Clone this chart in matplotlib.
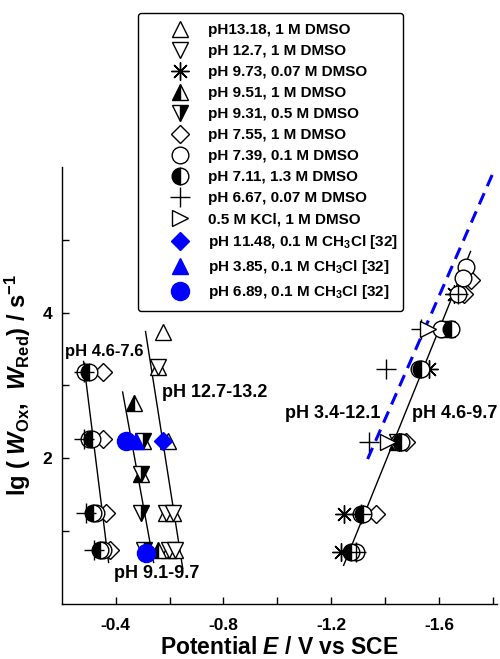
#!/usr/bin/env python3
"""Peak potential vs lg W for the oxidation and reduction branches."""

from __future__ import annotations

from typing import Any, Dict, List

import matplotlib

matplotlib.use("Agg")
import matplotlib.pyplot as plt
from matplotlib.ticker import FixedLocator, NullFormatter

# ---- data: peak potential E (V vs SCE) and lg W (s^-1) per series ----
PH1318_E = [-0.574, -0.556, -0.593, -0.586, -0.612, -0.597, -0.619]
PH1318_LGW = [3.74, 3.26, 2.24, 1.25, 1.25, 0.74, 0.74]

PH127_E = [-0.556, -0.586, -0.612, -0.597, -0.619]
PH127_LGW = [3.26, 1.25, 1.25, 0.74, 0.74]

PH973_E = [-1.654, -1.561, -1.450, -1.246, -1.235]
PH973_LGW = [4.25, 3.22, 2.23, 1.24, 0.72]

PH951_E = [-0.467, -0.500, -0.493, -0.556, -1.628, -1.443]
PH951_LGW = [2.76, 2.24, 1.78, 0.74, 3.77, 2.23]

PH931_E = [-0.500, -0.493, -0.496, -0.504, -1.628, -1.443]
PH931_LGW = [2.24, 1.78, 1.25, 0.74, 3.77, 2.23]

PH755_E = [-0.352, -0.355, -0.363, -0.381, -1.717, -1.691, -1.476, -1.365]
PH755_LGW = [3.18, 2.26, 1.25, 0.74, 4.45, 4.25, 2.23, 1.24]

PH739_E = [-0.285, -0.300, -0.329, -0.355,
           -1.699, -1.688, -1.669, -1.606, -1.524, -1.450, -1.309, -1.291]
PH739_LGW = [3.18, 2.26, 1.25, 0.74, 4.62, 4.48, 4.25, 3.77, 3.22, 2.23, 1.24, 0.72]

PH711_E = [-0.300, -0.311, -0.315, -0.341, -1.643, -1.532, -1.458, -1.317, -1.272]
PH711_LGW = [3.18, 2.26, 1.25, 0.74, 3.77, 3.22, 2.23, 1.24, 0.72]

PH667_E = [-0.281, -0.281, -0.292, -0.318,
           -1.669, -1.532, -1.402, -1.339, -1.309, -1.291]
PH667_LGW = [3.18, 2.26, 1.25, 0.74, 4.25, 3.77, 3.22, 2.23, 1.24, 0.72]

KCL_E = [-1.558, -1.409]
KCL_LGW = [3.77, 2.23]

PH1148_E = [-0.574]
PH1148_LGW = [2.24]

PH385_E = [-0.474]
PH385_LGW = [2.24]

PH689_E = [-0.437, -0.511]
PH689_LGW = [2.24, 0.70]

LABELS = [
    "pH13.18, 1 M DMSO",
    "pH 12.7, 1 M DMSO",
    "pH 9.73, 0.07 M DMSO",
    "pH 9.51, 1 M DMSO",
    "pH 9.31, 0.5 M DMSO",
    "pH 7.55, 1 M DMSO",
    "pH 7.39, 0.1 M DMSO",
    "pH 7.11, 1.3 M DMSO",
    "pH 6.67, 0.07 M DMSO",
    "0.5 M KCl, 1 M DMSO",
    r"pH 11.48, 0.1 M CH$_3$Cl $\mathsf{[32]}$",
    r"pH 3.85, 0.1 M CH$_3$Cl $\mathsf{[32]}$",
    r"pH 6.89, 0.1 M CH$_3$Cl $\mathsf{[32]}$",
]

# fitted lines (end points)
FIT_PH46_76_E = [-0.281, -0.374]
FIT_PH46_76_LGW = [3.33, 0.57]
FIT_PH91_97_E = [-0.426, -0.541]
FIT_PH91_97_LGW = [2.91, 0.57]
FIT_PH127_132_E = [-0.511, -0.649]
FIT_PH127_132_LGW = [3.74, 0.49]
FIT_PH46_97_E = [-1.246, -1.717]
FIT_PH46_97_LGW = [0.53, 4.84]
FIT_PH34_121_E = [-1.335, -1.803]
FIT_PH34_121_LGW = [1.99, 5.94]

X_TICKS = [-0.4, -0.8, -1.2, -1.6]
X_MINOR = [-0.6, -1.0, -1.4, -1.8]
Y_TICKS = [2, 4]
Y_MINOR = [1, 3, 5]

BLUE = "#0000ff"


def series_styles() -> List[Dict[str, Any]]:
    open_kw = dict(mfc="white", mec="black", mew=1.0)
    half_kw = dict(mfc="black", mfcalt="white", mec="black", mew=1.0)
    return [
        dict(marker="^", ms=12, **open_kw),
        dict(marker="v", ms=12, **open_kw),
        dict(marker=(8, 2, 0), ms=13, mec="black", mew=1.0),
        dict(marker="^", ms=12, fillstyle="left", **half_kw),
        dict(marker="v", ms=12, fillstyle="right", **half_kw),
        dict(marker="D", ms=9.5, **open_kw),
        dict(marker="o", ms=12, **open_kw),
        dict(marker="o", ms=12, fillstyle="left", **half_kw),
        dict(marker="+", ms=15, mec="black", mew=1.0),
        dict(marker=">", ms=12, **open_kw),
        dict(marker="D", ms=9.5, mfc=BLUE, mec=BLUE, mew=1.0),
        dict(marker="^", ms=12, mfc=BLUE, mec=BLUE, mew=1.0),
        dict(marker="o", ms=13, mfc=BLUE, mec=BLUE, mew=1.0),
    ]


def main() -> None:
    plt.rcParams["font.family"] = ["Liberation Sans", "DejaVu Sans"]
    plt.rcParams["font.weight"] = "bold"
    plt.rcParams["axes.labelweight"] = "bold"
    plt.rcParams["mathtext.fontset"] = "custom"
    plt.rcParams["mathtext.rm"] = "Liberation Sans:bold"
    plt.rcParams["mathtext.it"] = "Liberation Sans:italic:bold"
    plt.rcParams["mathtext.bf"] = "Liberation Sans:bold"
    plt.rcParams["mathtext.sf"] = "Liberation Sans"
    plt.rcParams["axes.unicode_minus"] = False

    fig = plt.figure(figsize=(5, 6.59), dpi=100)
    ax = fig.add_axes([0.1234, 0.0835, 0.8706, 0.6632])

    # fit lines first so markers sit on top
    for e, w in [
        (FIT_PH46_76_E, FIT_PH46_76_LGW),
        (FIT_PH91_97_E, FIT_PH91_97_LGW),
        (FIT_PH127_132_E, FIT_PH127_132_LGW),
        (FIT_PH46_97_E, FIT_PH46_97_LGW),
    ]:
        ax.plot(e, w, color="black", lw=1.0)
    ax.plot(FIT_PH34_121_E, FIT_PH34_121_LGW, color=BLUE, lw=2.2,
            ls=(0, (4, 2.5)))

    data = [
        (PH1318_E, PH1318_LGW), (PH127_E, PH127_LGW), (PH973_E, PH973_LGW),
        (PH951_E, PH951_LGW), (PH931_E, PH931_LGW), (PH755_E, PH755_LGW),
        (PH739_E, PH739_LGW), (PH711_E, PH711_LGW), (PH667_E, PH667_LGW),
        (KCL_E, KCL_LGW), (PH1148_E, PH1148_LGW), (PH385_E, PH385_LGW),
        (PH689_E, PH689_LGW),
    ]
    handles = []
    for (e, w), label, style in zip(data, LABELS, series_styles()):
        (h,) = ax.plot(e, w, ls="none", label=label, **style)
        handles.append(h)

    # axes
    ax.set_xlim(-0.2, -1.815)
    ax.set_ylim(0, 6)
    for side in ("top", "right"):
        ax.spines[side].set_visible(False)
    for side in ("left", "bottom"):
        ax.spines[side].set_linewidth(1.0)
    ax.xaxis.set_major_locator(FixedLocator(X_TICKS))
    ax.xaxis.set_minor_locator(FixedLocator(X_MINOR))
    ax.yaxis.set_major_locator(FixedLocator(Y_TICKS))
    ax.yaxis.set_minor_locator(FixedLocator(Y_MINOR))
    ax.xaxis.set_minor_formatter(NullFormatter())
    ax.yaxis.set_minor_formatter(NullFormatter())
    ax.set_xticklabels([f"{v:.1f}" for v in X_TICKS])
    ax.tick_params(which="both", direction="in", length=5, width=1.0,
                   labelsize=12.5)
    ax.tick_params(axis="x", which="both", pad=10)
    ax.tick_params(axis="y", which="both", pad=7)
    for lab in ax.get_xticklabels() + ax.get_yticklabels():
        lab.set_fontweight("bold")

    ax.set_xlabel(r"Potential $\mathit{E}$ / V vs SCE", fontsize=16.5,
                  fontweight="bold", labelpad=2)
    ax.set_ylabel(r"lg ( $\mathit{W}_{\mathrm{Ox}}$,  $\mathit{W}_{\mathrm{Red}}$) / s$^{-1}$",
                  fontsize=17, fontweight="bold", labelpad=7)

    # branch annotations
    txt = dict(fontsize=13, fontweight="bold", va="center")
    ax.text(-0.214, 3.46, "pH 4.6-7.6", ha="left", fontsize=12,
            fontweight="bold", va="center")
    ax.text(-0.571, 2.91, "pH 12.7-13.2", ha="left", **txt)
    ax.text(-0.393, 0.42, "pH 9.1-9.7", ha="left", **txt)
    ax.text(-1.383, 2.62, "pH 3.4-12.1", ha="right", **txt)
    ax.text(-1.498, 2.62, "pH 4.6-9.7", ha="left", **txt)

    leg = fig.legend(
        handles=handles,
        loc="upper left",
        bbox_to_anchor=(0.276, 0.522, 0.53, 0.458),
        mode="expand",
        fontsize=11,
        numpoints=1,
        handlelength=4.2,
        handletextpad=-0.26,
        borderpad=0.65,
        labelspacing=0.46,
        borderaxespad=0,
        fancybox=True,
        framealpha=1,
    )
    leg.get_frame().set_edgecolor("black")
    leg.get_frame().set_linewidth(1.0)

    fig.savefig("out.png", dpi=100)
    plt.close(fig)


if __name__ == "__main__":
    main()
